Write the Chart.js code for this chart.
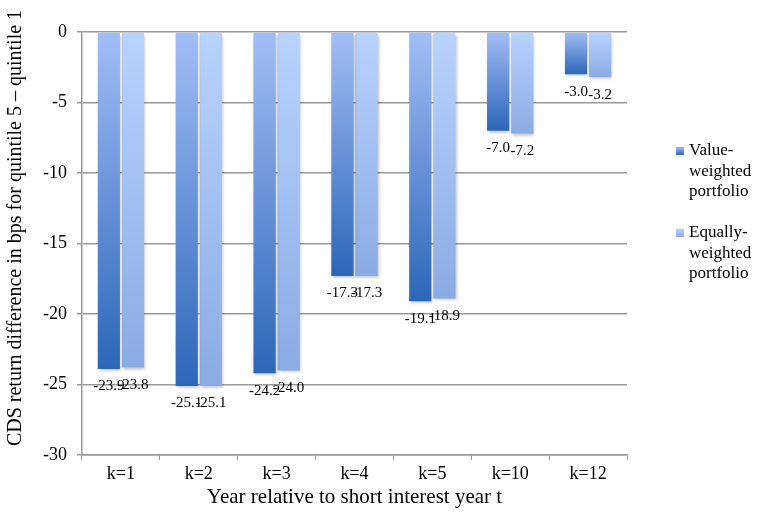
<!DOCTYPE html>
<html>
<head>
<meta charset="utf-8">
<script src="https://cdn.jsdelivr.net/npm/chart.js@4"></script>
<style>
  html, body { margin: 0; padding: 0; background: #fff; }
  #wrap { width: 761px; height: 514px; position: relative; }
</style>
</head>
<body>
<div id="wrap"><canvas id="cds-chart"></canvas></div>
<script>
const categories = ['k=1', 'k=2', 'k=3', 'k=4', 'k=5', 'k=10', 'k=12'];
const valueWeighted = [-23.9, -25.1, -24.2, -17.3, -19.1, -7.0, -3.0];
const equallyWeighted = [-23.8, -25.1, -24.0, -17.3, -18.9, -7.2, -3.2];
const seriesNames = [['Value-', 'weighted', 'portfolio'], ['Equally-', 'weighted', 'portfolio']];
const yTicks = [0, -5, -10, -15, -20, -25, -30];
const yTitle = 'CDS return difference in bps for quintile 5 – quintile 1';
const xTitle = 'Year relative to short interest year t';

const FONT = '"Liberation Serif", "Times New Roman", serif';
const colorStops = [
    ['#a2bef6', '#2d66b8'],
    ['#b9d3ff', '#8aabe3']
];

const barGradient = (ctx, idx) => {
    const chart = ctx.chart;
    if (!chart.chartArea || ctx.type !== 'data') return colorStops[idx][1];
    const y = chart.scales.y;
    const y0 = y.getPixelForValue(0);
    const y1 = y.getPixelForValue(ctx.raw);
    const g = chart.ctx.createLinearGradient(0, y0, 0, y1 + 0.01);
    g.addColorStop(0, colorStops[idx][0]);
    g.addColorStop(1, colorStops[idx][1]);
    return g;
};

// value labels under the end of each bar
const valueLabels = {
    id: 'valueLabels',
    afterDatasetsDraw(chart) {
        const ctx = chart.ctx;
        ctx.save();
        ctx.font = '15px ' + FONT;
        ctx.fillStyle = '#000';
        ctx.textAlign = 'center';
        ctx.textBaseline = 'top';
        chart.data.datasets.forEach((ds, i) => {
            chart.getDatasetMeta(i).data.forEach((bar, j) => {
                ctx.fillText(ds.data[j].toFixed(1), bar.x, bar.y + 10);
            });
        });
        ctx.restore();
    }
};

// soft shadow under the bars
const barShadow = {
    id: 'barShadow',
    beforeDatasetsDraw(chart) {
        const ctx = chart.ctx;
        ctx.save();
        ctx.shadowColor = 'rgba(0,0,0,0.25)';
        ctx.shadowBlur = 3;
        ctx.shadowOffsetX = 1;
        ctx.shadowOffsetY = 2;
    },
    afterDatasetsDraw(chart) {
        chart.ctx.restore();
    }
};

// y title (placed by hand) and legend at the right with wrapped labels
const extras = {
    id: 'extras',
    afterDraw(chart) {
        const ctx = chart.ctx;
        ctx.save();
        ctx.fillStyle = '#000';
        ctx.font = '20px ' + FONT;
        ctx.textAlign = 'center';
        ctx.textBaseline = 'middle';
        ctx.translate(16, 228);
        ctx.rotate(-Math.PI / 2);
        ctx.fillText(yTitle, 0, 0);
        ctx.restore();

        ctx.save();
        ctx.font = '17px ' + FONT;
        ctx.textBaseline = 'middle';
        const tops = [151, 233];
        seriesNames.forEach((lines, i) => {
            const g = ctx.createLinearGradient(0, tops[i] - 4, 0, tops[i] + 4);
            g.addColorStop(0, colorStops[i][0]);
            g.addColorStop(1, colorStops[i][1]);
            ctx.fillStyle = g;
            ctx.fillRect(676, tops[i] - 4, 8, 8);
            ctx.fillStyle = '#000';
            lines.forEach((t, k) => ctx.fillText(t, 689, tops[i] + k * 20.5));
        });
        ctx.restore();
    }
};

const config = {
    type: 'bar',
    data: {
        labels: categories,
        datasets: [{
            label: 'Value-weighted portfolio',
            data: valueWeighted,
            backgroundColor: ctx => barGradient(ctx, 0),
            categoryPercentage: 0.62,
            barPercentage: 0.92
        }, {
            label: 'Equally-weighted portfolio',
            data: equallyWeighted,
            backgroundColor: ctx => barGradient(ctx, 1),
            categoryPercentage: 0.62,
            barPercentage: 0.92
        }]
    },
    options: {
        responsive: true,
        maintainAspectRatio: false,
        animation: false,
        layout: { padding: { top: 32, right: 134, left: 0, bottom: 0 } },
        plugins: {
            legend: { display: false },
            tooltip: { enabled: false }
        },
        scales: {
            x: {
                afterFit: scale => { scale.height = 59; },
                grid: {
                    offset: true,
                    drawOnChartArea: false,
                    tickLength: 5,
                    color: '#999',
                    lineWidth: 1
                },
                border: { color: '#999', width: 1.5 },
                ticks: {
                    color: '#000',
                    font: { family: FONT, size: 18 },
                    padding: 3
                },
                title: {
                    display: true,
                    text: xTitle,
                    color: '#000',
                    font: { family: FONT, size: 21 },
                    padding: { top: 1 }
                }
            },
            y: {
                min: -30,
                max: 0,
                afterFit: scale => { scale.width = 82; },
                afterBuildTicks: scale => { scale.ticks = yTicks.map(v => ({ value: v })); },
                grid: {
                    color: '#999',
                    lineWidth: 1.5,
                    tickLength: 5
                },
                border: { color: '#999', width: 1.5 },
                ticks: {
                    color: '#000',
                    font: { family: FONT, size: 18 },
                    padding: 10
                },
                title: { display: false }
            }
        }
    },
    plugins: [barShadow, valueLabels, extras]
};

new Chart(document.getElementById('cds-chart').getContext('2d'), config);
</script>
</body>
</html>
